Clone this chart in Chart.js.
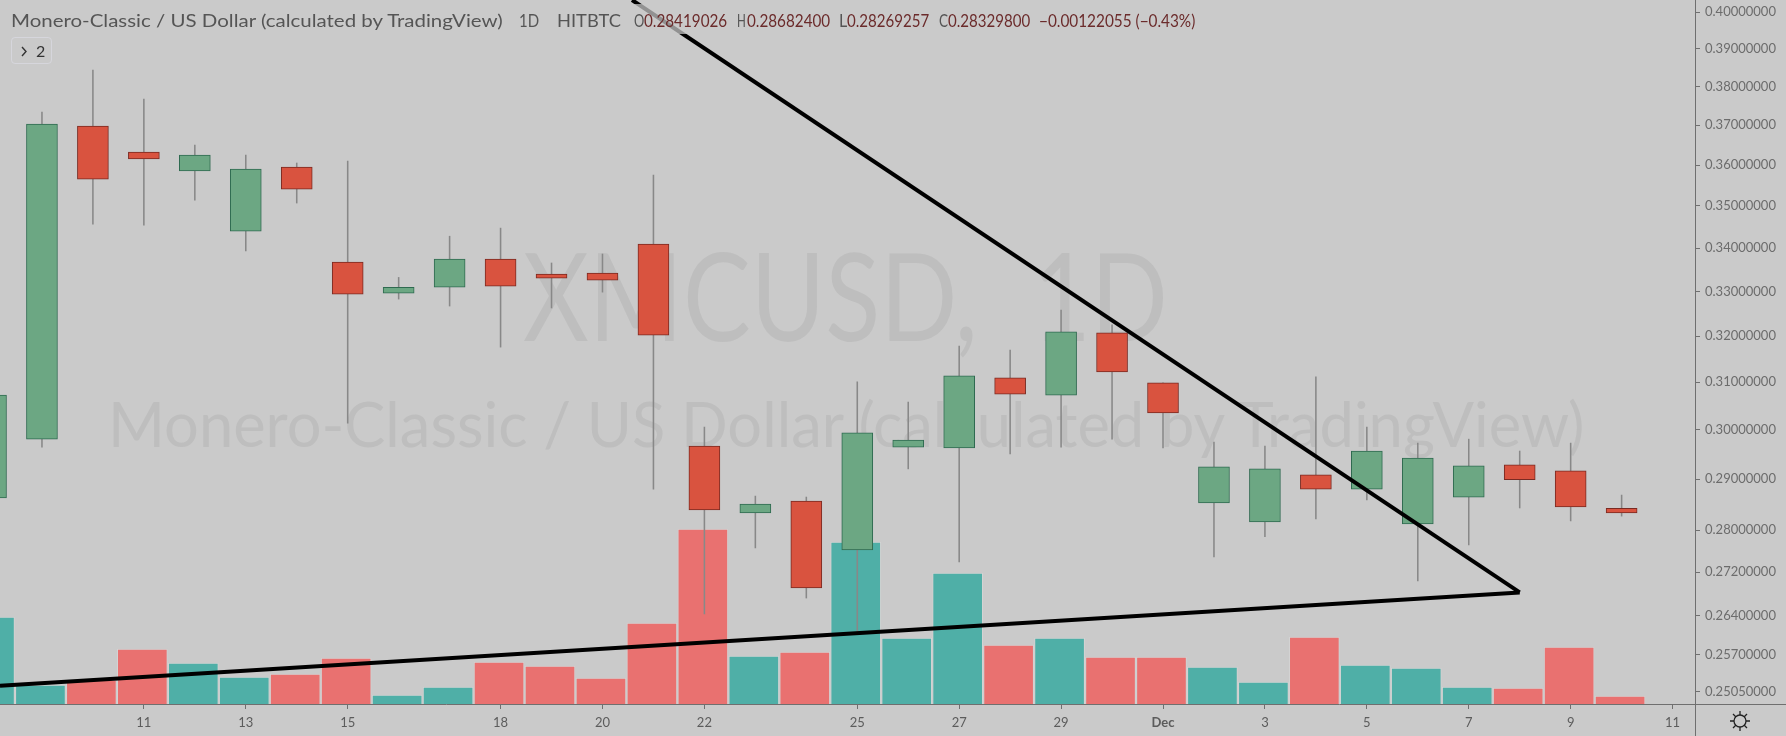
<!DOCTYPE html>
<html>
<head>
<meta charset="utf-8">
<title>XMCUSD 1D</title>
<script src="https://cdn.jsdelivr.net/npm/chart.js@4"></script>
<style>
  html, body { margin: 0; padding: 0; background: #cacaca; }
  #wrap { position: relative; width: 1786px; height: 736px; overflow: hidden; font-family: Lato, sans-serif; }
  #chart { position: absolute; left: 0; top: 0; z-index: 2; }
  .mark, .head { position: absolute; white-space: nowrap; transform-origin: left center; line-height: 1; }
  .mark { color: #bebebe; z-index: 1; }
  .head { z-index: 4; font-size: 18px; color: #555; }
  #strip { position: absolute; left: 8px; top: 4px; width: 1190px; height: 30px; background: rgba(202,202,202,.72); z-index: 3; }
  #more { position: absolute; left: 11px; top: 37px; width: 39px; height: 25px; border: 1px solid #d6d6dc; border-radius: 4px; z-index: 4; color: #333; font-size: 16px; line-height: 25px; }
  #more svg { position: absolute; left: 9px; top: 8px; }
  #more span { position: absolute; left: 24px; top: 0; }
  #gear { position: absolute; left: 1729px; top: 710px; z-index: 4; }
</style>
</head>
<body>
<div id="wrap">
  <div class="mark" id="markBig" style="left:523px;top:233px;font-size:122px;word-spacing:34px">XMCUSD, 1D</div>
  <div class="mark" id="markName" style="left:108px;top:392px;font-size:62px">Monero-Classic / US Dollar (calculated by TradingView)</div>
  <canvas id="chart" width="1786" height="736"></canvas>
  <div id="strip"></div>
  <div id="head"></div>
  <div id="more">
    <svg width="7" height="11" viewBox="0 0 7 11" fill="none" stroke="#333" stroke-width="1.4"><path d="M1 1l4 4.5-4 4.5"/></svg>
    <span>2</span>
  </div>
  <svg id="gear" width="22" height="22" viewBox="0 0 22 22" fill="none" stroke="#222" stroke-width="1.3">
    <circle cx="11" cy="11" r="6"/>
    <path d="M11 1v4M11 17v4M1 11h4M17 11h4M4 4l3 3M15 15l3 3M18 4l-3 3M7 15l-3 3"/>
  </svg>
</div>
<script>
// Daily candles, Nov 8 to Dec 10
const days = ['Nov 8', 'Nov 9', 'Nov 10', 'Nov 11', 'Nov 12', 'Nov 13', 'Nov 14', 'Nov 15', 'Nov 16', 'Nov 17', 'Nov 18',
  'Nov 19', 'Nov 20', 'Nov 21', 'Nov 22', 'Nov 23', 'Nov 24', 'Nov 25', 'Nov 26', 'Nov 27', 'Nov 28', 'Nov 29', 'Nov 30',
  'Dec 1', 'Dec 2', 'Dec 3', 'Dec 4', 'Dec 5', 'Dec 6', 'Dec 7', 'Dec 8', 'Dec 9', 'Dec 10']
const opens = [0.28626, 0.29808, 0.36978, 0.36323, 0.35852, 0.34398, 0.35951, 0.33675, 0.32961, 0.33095, 0.33745,
  0.33397, 0.3342, 0.34093, 0.29666, 0.28331, 0.28565, 0.27619, 0.29646, 0.29626, 0.31093, 0.30725, 0.32073,
  0.30987, 0.28526, 0.28157, 0.29084, 0.28799, 0.28118, 0.28643, 0.29283, 0.29164, 0.28419]
const highs = [0.3083, 0.37338, 0.38433, 0.37672, 0.36497, 0.36249, 0.3605, 0.361, 0.33319, 0.34278, 0.3447,
  0.33652, 0.33861, 0.35753, 0.30057, 0.28662, 0.28643, 0.31008, 0.30579, 0.3178, 0.31693, 0.3258, 0.32249,
  0.30987, 0.29747, 0.29666, 0.31114, 0.30057, 0.29727, 0.29808, 0.29565, 0.29727, 0.28682]
const lows = [0.28487, 0.29646, 0.34566, 0.34542, 0.35142, 0.3393, 0.3507, 0.3014, 0.32826, 0.32669, 0.31758,
  0.32625, 0.32983, 0.28799, 0.26428, 0.27657, 0.26719, 0.26104, 0.29204, 0.27391, 0.29505, 0.29646, 0.29808,
  0.29626, 0.27486, 0.2787, 0.28215, 0.28584, 0.27038, 0.27714, 0.28428, 0.28176, 0.28269]
const closes = [0.30725, 0.3703, 0.35653, 0.36149, 0.36249, 0.35901, 0.35406, 0.32938, 0.33095, 0.33745, 0.33117,
  0.33304, 0.33257, 0.3202, 0.28389, 0.28506, 0.26907, 0.29939, 0.29787, 0.31136, 0.30746, 0.32095, 0.31219,
  0.3035, 0.29244, 0.29204, 0.28799, 0.29565, 0.29424, 0.29263, 0.28986, 0.28447, 0.2833]
// Volume has no axis in the picture, so these are relative heights
const volumes = [87, 19, 24, 55, 41, 27, 30, 46, 9, 17, 42, 38, 26, 81, 175, 48, 52, 162, 66, 131, 59, 66, 47,
  47, 37, 22, 67, 39, 36, 17, 16, 57, 8]

const priceTicks = [0.4, 0.39, 0.38, 0.37, 0.36, 0.35, 0.34, 0.33, 0.32, 0.31, 0.3, 0.29, 0.28, 0.272, 0.264, 0.257, 0.2505]
const dayTicks = [3, 5, 7, 10, 12, 14, 17, 19, 21, 23, 25, 27, 29, 31, 33]
const dayTickLabels = ['11', '13', '15', '18', '20', '22', '25', '27', '29', 'Dec', '3', '5', '7', '9', '11']

// Hand drawn trend lines: day index and price
const fallingLine = [{ x: 12.58, y: 0.40332 }, { x: 30, y: 0.26823 }]
const risingLine = [{ x: 0.1766, y: 0.25153 }, { x: 30, y: 0.26823 }]

const legendItems = [
  ['Monero-Classic / US Dollar (calculated by TradingView)', 11, 492, '#555'],
  ['1D', 519, 20, '#555'], ['HITBTC', 557, 64, '#555'],
  ['O', 634, 10, '#555'], ['0.28419026', 644, 83, '#6b2b2b'],
  ['H', 737, 9, '#555'], ['0.28682400', 747, 83, '#6b2b2b'],
  ['L', 839, 8, '#555'], ['0.28269257', 847, 82, '#6b2b2b'],
  ['C', 939, 9, '#555'], ['0.28329800', 948, 82, '#6b2b2b'],
  ['\u22120.00122055 (\u22120.43%)', 1039, 156, '#6b2b2b']
]

const isUp = (i) => closes[i] >= opens[i]
const upDown = (up, down) => days.map((d, i) => (isUp(i) ? up : down))

const ctx = document.getElementById('chart').getContext('2d')

// Axis lines run on into the corner cell, past the chart area
const cornerLines = {
  id: 'cornerLines',
  afterDraw(chart) {
    const { left, right, top, bottom } = chart.chartArea
    const c = chart.ctx
    c.save()
    c.strokeStyle = '#6f6f6f'
    c.lineWidth = 1
    c.beginPath()
    c.moveTo(Math.round(right) + 0.5, top)
    c.lineTo(Math.round(right) + 0.5, chart.height)
    c.moveTo(left, Math.round(bottom) + 0.5)
    c.lineTo(chart.width, Math.round(bottom) + 0.5)
    c.stroke()
    c.restore()
  },
}

new Chart(ctx, {
  data: {
    datasets: [
      {
        type: 'line',
        data: fallingLine,
        yAxisID: 'y',
        borderColor: '#000',
        borderWidth: 4,
        pointRadius: 0,
        order: 0,
      },
      {
        type: 'line',
        data: risingLine,
        yAxisID: 'y',
        borderColor: '#000',
        borderWidth: 4,
        pointRadius: 0,
        order: 0,
      },
      {
        type: 'bar',
        data: days.map((d, i) => ({ x: i, y: [opens[i], closes[i]] })),
        yAxisID: 'y',
        grouped: false,
        barThickness: 31,
        backgroundColor: upDown('#6ca783', '#d9533f'),
        borderColor: upDown('#2f6a50', '#7a2a22'),
        borderWidth: 1,
        borderSkipped: false,
        order: 1,
      },
      {
        type: 'bar',
        data: days.map((d, i) => ({ x: i, y: [lows[i], highs[i]] })),
        yAxisID: 'y',
        grouped: false,
        barThickness: 0.9,
        backgroundColor: '#888888',
        order: 2,
      },
      {
        type: 'bar',
        data: days.map((d, i) => ({ x: i, y: volumes[i] })),
        xAxisID: 'xVolume',
        yAxisID: 'volume',
        grouped: false,
        barThickness: 50,
        backgroundColor: upDown('#4fafa7', '#e97170'),
        borderColor: 'rgba(226,226,226,.4)',
        borderWidth: 1,
        borderSkipped: 'bottom',
        order: 3,
      },
    ],
  },
  options: {
    responsive: false,
    animation: false,
    layout: { padding: 0 },
    plugins: {
      legend: { display: false },
      tooltip: { enabled: false },
    },
    scales: {
      x: {
        type: 'linear',
        offset: false,
        bounds: 'data',
        min: 0.1766,
        max: 33.44,
        afterFit(scale) {
          scale.height = 32
          scale.paddingLeft = 0
          scale.paddingRight = 0
        },
        afterBuildTicks(scale) {
          scale.ticks = dayTicks.map((value) => ({ value }))
        },
        border: { display: false },
        grid: { drawOnChartArea: false, offset: false, tickLength: 5, tickColor: '#6f6f6f' },
        ticks: {
          autoSkip: false,
          maxRotation: 0,
          padding: 6,
          color: '#5c5c5c',
          font: (c) => ({ family: 'Lato', size: 13, weight: c.tick && c.tick.value === 23 ? 'bold' : 'normal' }),
          callback: (value) => dayTickLabels[dayTicks.indexOf(value)],
        },
      },
      // Volume bars sit a pixel or so left of the candles
      xVolume: {
        type: 'linear',
        display: false,
        offset: false,
        bounds: 'data',
        min: 0.2066,
        max: 33.47,
      },
      y: {
        type: 'logarithmic',
        position: 'right',
        bounds: 'data',
        min: 0.24839,
        max: 0.40332,
        afterFit(scale) {
          scale.width = 91
          // the .4 label may stick out over the top, no room kept for it
          scale.paddingTop = 0
          scale.paddingBottom = 0
        },
        afterBuildTicks(scale) {
          scale.ticks = priceTicks.map((value) => ({ value }))
        },
        border: { display: false },
        grid: { drawOnChartArea: false, tickLength: 5, tickColor: '#6f6f6f' },
        ticks: {
          autoSkip: false,
          padding: 5,
          color: '#6c6c6c',
          font: { family: 'Lato', size: 13 },
          callback: (value) => Number(value).toFixed(8),
        },
      },
      volume: {
        type: 'linear',
        display: false,
        min: 0,
        max: 704,
      },
    },
  },
  plugins: [cornerLines],
})

// Squeeze a text sideways to the width it has in the picture
function fitText(el, width) {
  el.style.transform = 'scaleX(' + width / el.offsetWidth + ')'
}

const head = document.getElementById('head')
legendItems.forEach(([text, left, width, color]) => {
  const span = document.createElement('div')
  span.className = 'head'
  span.textContent = text
  span.style.left = left + 'px'
  span.style.top = '11px'
  span.style.color = color
  head.appendChild(span)
  fitText(span, width)
})
fitText(document.getElementById('markBig'), 645)
fitText(document.getElementById('markName'), 1476)
</script>
</body>
</html>
